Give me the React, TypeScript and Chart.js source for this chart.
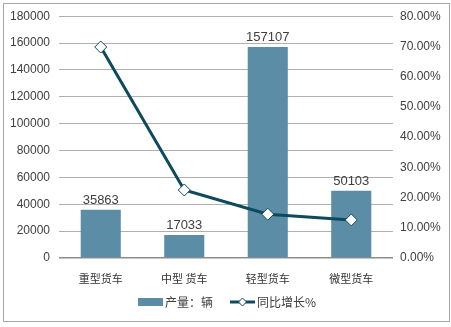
import React, { useEffect, useRef } from "react";
import { Chart, registerables } from "chart.js";

Chart.register(...registerables);

const categories = ["重型货车", "中型 货车", "轻型货车", "微型货车"];
const production = [35863, 17033, 157107, 50103];
const growth = [0.698, 0.225, 0.145, 0.126];
const barLabel = "产量：辆";
const lineLabel = "同比增长%";

const BAR_COLOR = "#5b8ea6";
const LINE_COLOR = "#0d4a5c";
const TEXT = "#404040";
const NUM_FONT = "'Liberation Sans', Arial, sans-serif";
const CJK_FONT = "'Noto Sans CJK SC', sans-serif";

const extras = {
  id: "extras",
  afterDatasetsDraw(chart: any) {
    const ctx = chart.ctx;
    const meta = chart.getDatasetMeta(0);
    ctx.save();
    ctx.fillStyle = TEXT;
    ctx.font = `13px ${NUM_FONT}`;
    ctx.textAlign = "center";
    ctx.textBaseline = "bottom";
    meta.data.forEach((el: any, i: number) => {
      ctx.fillText(String(production[i]), el.x, el.y - 3);
    });
    ctx.restore();
  },
  afterDraw(chart: any) {
    const ctx = chart.ctx;
    ctx.save();
    ctx.strokeStyle = "#a6a6a6";
    ctx.lineWidth = 1;
    ctx.strokeRect(3.5, 3.5, 446, 318);
    const cy = 302;
    ctx.fillStyle = BAR_COLOR;
    ctx.fillRect(138, cy - 4, 25, 8);
    ctx.fillStyle = TEXT;
    ctx.font = `12px ${CJK_FONT}`;
    ctx.textBaseline = "middle";
    ctx.textAlign = "left";
    ctx.fillText(barLabel, 165, cy);
    ctx.strokeStyle = LINE_COLOR;
    ctx.lineWidth = 3;
    ctx.beginPath();
    ctx.moveTo(230, cy);
    ctx.lineTo(255, cy);
    ctx.stroke();
    ctx.fillStyle = "#ffffff";
    ctx.lineWidth = 1;
    ctx.beginPath();
    ctx.moveTo(242.5, cy - 4);
    ctx.lineTo(246.5, cy);
    ctx.lineTo(242.5, cy + 4);
    ctx.lineTo(238.5, cy);
    ctx.closePath();
    ctx.fill();
    ctx.stroke();
    ctx.fillStyle = TEXT;
    ctx.fillText(lineLabel, 257, cy);
    ctx.restore();
  },
};

export default function App() {
  const ref = useRef<HTMLCanvasElement>(null);
  useEffect(() => {
    const chart = new Chart(ref.current!, {
      type: "bar",
      data: {
        labels: categories,
        datasets: [
          {
            type: "bar",
            label: barLabel,
            data: production,
            backgroundColor: BAR_COLOR,
            yAxisID: "y",
            categoryPercentage: 1,
            barPercentage: 0.48,
            order: 2,
          },
          {
            type: "line",
            label: lineLabel,
            data: growth,
            borderColor: LINE_COLOR,
            borderWidth: 3,
            pointStyle: "rectRot",
            pointRadius: 6,
            pointBackgroundColor: "#ffffff",
            pointBorderColor: LINE_COLOR,
            pointBorderWidth: 1,
            yAxisID: "y1",
            order: 1,
          } as any,
        ],
      },
      options: {
        animation: false,
        responsive: false,
        layout: { padding: { top: 16, bottom: 41, left: 0, right: 0 } },
        plugins: { legend: { display: false }, tooltip: { enabled: false } },
        scales: {
          x: {
            grid: { display: false },
            border: { display: false },
            ticks: {
              color: "#333",
              font: { family: CJK_FONT, size: 11 },
              padding: 6,
              maxRotation: 0,
            },
            afterFit(s: any) {
              s.height = 28;
            },
          },
          y: {
            position: "left",
            min: 0,
            max: 180000,
            ticks: {
              stepSize: 20000,
              color: TEXT,
              font: { family: NUM_FONT, size: 12 },
              padding: 9,
              callback: (v: any) => String(v),
            },
            grid: {
              drawTicks: false,
              color: (c: any) => (c.tick && c.tick.value === 0 ? "#8c8c8c" : "#b0b0b0"),
              lineWidth: (c: any) => (c.tick && c.tick.value === 0 ? 1.5 : 1),
            },
            border: { display: false },
            afterFit(s: any) {
              s.width = 59;
            },
          },
          y1: {
            position: "right",
            min: 0,
            max: 0.8,
            ticks: {
              stepSize: 0.1,
              color: TEXT,
              font: { family: NUM_FONT, size: 12 },
              padding: 7,
              callback: (v: any) => (Number(v) * 100).toFixed(2) + "%",
            },
            grid: { display: false, drawTicks: false },
            border: { display: false },
            afterFit(s: any) {
              s.width = 58;
            },
          },
        },
      },
      plugins: [extras],
    } as any);
    return () => chart.destroy();
  }, []);
  return (
    <div style={{ position: "fixed", left: 0, top: 0, width: 451, height: 327, background: "#fff" }}>
      <canvas ref={ref} width={451} height={327} style={{ width: 451, height: 327, display: "block" }} />
    </div>
  );
}
